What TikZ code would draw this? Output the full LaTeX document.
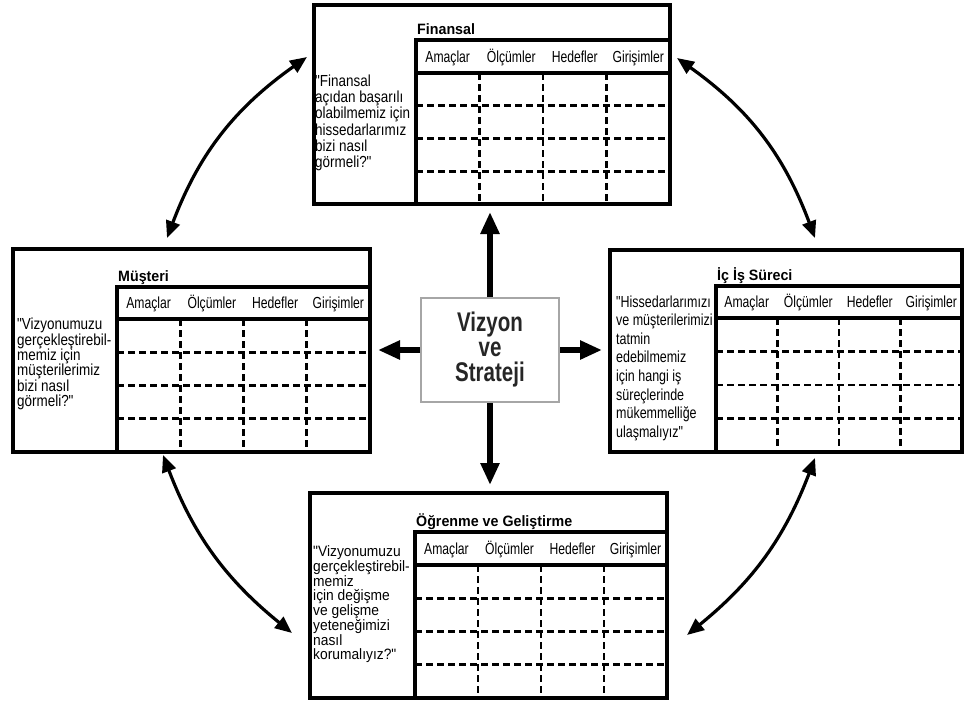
\documentclass[tikz,border=0pt]{standalone}
\usepackage{fontspec}
\setmainfont{Liberation Sans}
\newfontfamily\hdrfont{Liberation Sans}[FakeStretch=0.76]
\newfontfamily\bodyfont{Liberation Sans}[FakeStretch=0.84]
\newfontfamily\narrowbody{Liberation Sans}[FakeStretch=0.78]
\newfontfamily\lowbody{Liberation Sans}[FakeStretch=0.92]
\newfontfamily\ttlfont{Liberation Sans}[FakeStretch=0.95]
\newfontfamily\hubfont{Liberation Sans}[FakeStretch=0.76]
\usetikzlibrary{arrows.meta,fit}

\tikzset{
  panelbox/.style={draw, line width=4pt, inner sep=0pt},
  tablerule/.style={line width=3.5pt},
  gridrule/.style={line width=2.8pt, dash pattern=on 7pt off 4pt},
  headlbl/.style={font=\hdrfont\fontsize{16}{16}\selectfont, inner sep=0pt, anchor=base},
  paneltitle/.style={font=\ttlfont\bfseries\fontsize{15}{15}\selectfont, inner sep=0pt, anchor=base west},
  quest/.style={align=left, inner sep=0pt, anchor=west},
  spoke/.style={line width=6pt, -{Triangle[length=22pt,width=18pt]}, shorten >=6pt},
  cyclearrow/.style={line width=3.2pt, {Triangle[length=17pt,width=14pt]}-{Triangle[length=17pt,width=14pt]}},
  hub/.style={draw=gray!70, line width=2pt, minimum width=138pt, minimum height=104pt,
    align=center, inner sep=0pt, font=\hubfont\bfseries\fontsize{27}{25}\selectfont, text=black!85},
}

% One scorecard panel: name, left, top, right, bottom, table left, table top, header bottom, title
\newcommand\bscpanel[9]{%
  \node[panelbox, fit={(#2,#3) (#4,#5)}] (#1) {};
  \draw[tablerule] (#6,#5) -- (#6,#7) -- (#4,#7);
  \draw[tablerule] (#6,#8) -- (#4,#8);
  \pgfmathsetmacro\pcw{(#4-#6)/4}
  \pgfmathsetmacro\prh{(#5-#8)/4}
  \foreach \k in {1,2,3} {
    \draw[gridrule] ({#6+\k*\pcw},#8) -- ({#6+\k*\pcw},#5);
    \draw[gridrule] (#6,{#8+\k*\prh}) -- (#4,{#8+\k*\prh});
  }
  \foreach \k/\lbl in {0/Amaçlar,1/Ölçümler,2/Hedefler,3/Girişimler}
    \node[headlbl] (#1-h\k) at ({#6+(\k+0.5)*\pcw},{(#7+#8)/2+5.5}) {\lbl};
  \node[paneltitle] (#1-title) at (#6+1,#7-6) {#9};
}

\begin{document}
\begin{tikzpicture}[x=1pt,y=-1pt]
  \fill[white] (0,0) rectangle (966,702);
  \useasboundingbox (0,0) rectangle (966,702);

  % the four perspectives
  \bscpanel{fin}{314}{5}{670}{204}{416}{40}{73}{Finansal}
  \bscpanel{mus}{13}{249}{370}{452}{117}{287}{319}{Müşteri}
  \bscpanel{ics}{610}{250}{962}{452}{716}{286}{318}{İç İş Süreci}
  \bscpanel{ogr}{310}{493}{667}{698}{415}{532}{565}{Öğrenme ve Geliştirme}

  % guiding questions
  \node[quest, font=\bodyfont\fontsize{16}{16.3}\selectfont] (finq) at (315,123)
    {"Finansal\\açıdan başarılı\\olabilmemiz için\\hissedarlarımız\\bizi nasıl\\görmeli?"};
  \node[quest, font=\bodyfont\fontsize{16}{15.4}\selectfont] (musq) at (17,364)
    {"Vizyonumuzu\\gerçekleştirebil-\\memiz için\\müşterilerimiz\\bizi nasıl\\görmeli?"};
  \node[quest, font=\narrowbody\fontsize{16}{18.6}\selectfont] (icsq) at (616,368)
    {"Hissedarlarımızı\\ve müşterilerimizi\\tatmin\\edebilmemiz\\için hangi iş\\süreçlerinde\\mükemmelliğe\\ulaşmalıyız"};
  \node[quest, font=\lowbody\fontsize{15}{13.9}\selectfont] (ogrq) at (313,604)
    {"Vizyonumuzu\\gerçekleştirebil-\\memiz\\için değişme\\ve gelişme\\yeteneğimizi\\nasıl\\korumalıyız?"};

  % centre
  \node[hub] (hub) at (490,350) {Vizyon\\ve\\Strateji};

  \draw[spoke] (hub.north) -- (hub.north |- fin.south);
  \draw[spoke] (hub.south) -- (hub.south |- ogr.north);
  \draw[spoke] (hub.west) -- (hub.west -| mus.east);
  \draw[spoke] (hub.east) -- (hub.east -| ics.west);

  % cycle between the perspectives
  \coordinate (musTop) at (167,238);
  \coordinate (finLeft) at (307,57);
  \coordinate (finRight) at (677,58);
  \coordinate (icsTop) at (815,238);
  \coordinate (musBot) at (163,455);
  \coordinate (ogrLeft) at (292,633);
  \coordinate (icsBot) at (815,458);
  \coordinate (ogrRight) at (687,635);

  \draw[cyclearrow] (musTop) to[bend left=17] (finLeft);
  \draw[cyclearrow] (finRight) to[bend left=17] (icsTop);
  \draw[cyclearrow] (musBot) to[bend right=15] (ogrLeft);
  \draw[cyclearrow] (icsBot) to[bend left=15] (ogrRight);
\end{tikzpicture}
\end{document}
